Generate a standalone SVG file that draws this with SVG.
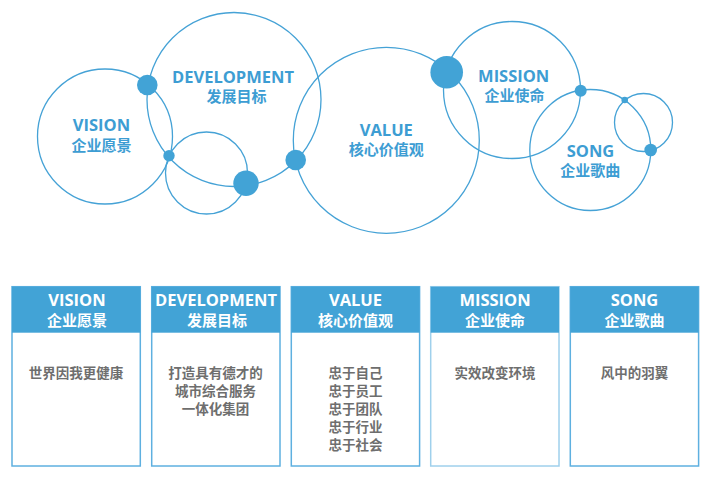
<svg xmlns="http://www.w3.org/2000/svg" width="709" height="487" viewBox="0 0 709 487">
<style>
.ring{fill:none;stroke:#45a2d6;stroke-width:1.3}
.dot{fill:#42a3d6}
.t{font-family:"Open Sans","Noto Sans CJK SC",sans-serif;font-weight:bold;text-anchor:middle}
.en{font-size:16.5px}
.cn{font-family:"Noto Sans CJK SC",sans-serif;font-size:15px}
.blue{fill:#3d9dd3}
.white{fill:#ffffff}
.body{font-family:"Noto Sans CJK SC",sans-serif;font-size:13.5px;font-weight:bold;fill:#6e6e6e;text-anchor:middle}
.box{fill:#ffffff;stroke:#5eb0e0;stroke-width:1.5}
.hdr{fill:#42a3d6}
</style>
<rect width="709" height="487" fill="#ffffff"/>
<g id="connectors">
<circle class="ring" cx="105" cy="136.5" r="67.5"/>
<circle class="ring" cx="234" cy="99.5" r="87"/>
<circle class="ring" cx="206.5" cy="173" r="41"/>
<circle class="ring" cx="386.3" cy="140.3" r="93"/>
<circle class="ring" cx="512" cy="90" r="68.5"/>
<circle class="ring" cx="590.3" cy="150" r="60.5"/>
<circle class="ring" cx="643.5" cy="122.5" r="29"/>
<circle class="dot" cx="147.3" cy="85" r="10.3"/>
<circle class="dot" cx="169" cy="155.7" r="5.7"/>
<circle class="dot" cx="246" cy="183.3" r="12.7"/>
<circle class="dot" cx="295.7" cy="160" r="10.3"/>
<circle class="dot" cx="446.7" cy="72.3" r="16.3"/>
<circle class="dot" cx="580.7" cy="90.7" r="6"/>
<circle class="dot" cx="624.7" cy="100" r="3.3"/>
<circle class="dot" cx="650.7" cy="150" r="6.3"/>
</g>
<g id="c-vision">
<text class="t en blue" x="101.5" y="131">VISION</text>
<text class="t cn blue" x="101.5" y="150.5">企业愿景</text>
</g>
<g id="c-development">
<text class="t en blue" x="233" y="83.3">DEVELOPMENT</text>
<text class="t cn blue" x="236.5" y="101.7">发展目标</text>
</g>
<g id="c-value">
<text class="t en blue" x="386.3" y="136">VALUE</text>
<text class="t cn blue" x="386.3" y="155">核心价值观</text>
</g>
<g id="c-mission">
<text class="t en blue" x="513.7" y="82">MISSION</text>
<text class="t cn blue" x="514.5" y="101">企业使命</text>
</g>
<g id="c-song">
<text class="t en blue" x="590.5" y="157">SONG</text>
<text class="t cn blue" x="590.3" y="175.7">企业歌曲</text>
</g>
<g id="b-vision">
<rect class="box" x="12" y="286.7" width="128.3" height="179.3"/>
<rect class="hdr" x="12" y="286.7" width="128.3" height="46"/>
<text class="t en white" x="77" y="306">VISION</text>
<text class="t cn white" x="77" y="325.7">企业愿景</text>
<text class="body" x="76" y="378.3">世界因我更健康</text>
</g>
<g id="b-development">
<rect class="box" x="151.7" y="286.7" width="128.3" height="179.3"/>
<rect class="hdr" x="151.7" y="286.7" width="128.3" height="46"/>
<text class="t en white" x="216" y="306">DEVELOPMENT</text>
<text class="t cn white" x="217" y="325.7">发展目标</text>
<text class="body" x="215.5" y="378.3">打造具有德才的</text>
<text class="body" x="215.5" y="396.3">城市综合服务</text>
<text class="body" x="215.5" y="414.3">一体化集团</text>
</g>
<g id="b-value">
<rect class="box" x="291.3" y="286.7" width="128.3" height="179.3"/>
<rect class="hdr" x="291.3" y="286.7" width="128.3" height="46"/>
<text class="t en white" x="355.5" y="306">VALUE</text>
<text class="t cn white" x="355.5" y="325.7">核心价值观</text>
<text class="body" x="355.5" y="378.3">忠于自己</text>
<text class="body" x="355.5" y="396.3">忠于员工</text>
<text class="body" x="355.5" y="414.3">忠于团队</text>
<text class="body" x="355.5" y="432.3">忠于行业</text>
<text class="body" x="355.5" y="450.3">忠于社会</text>
</g>
<g id="b-mission">
<rect class="box" x="430.7" y="286.7" width="128.3" height="179.3" style="stroke:#9fd0ec"/>
<rect class="hdr" x="430.7" y="286.7" width="128.3" height="46"/>
<text class="t en white" x="495" y="306">MISSION</text>
<text class="t cn white" x="495" y="325.7">企业使命</text>
<text class="body" x="495" y="378.3">实效改变环境</text>
</g>
<g id="b-song">
<rect class="box" x="570.3" y="286.7" width="128.3" height="179.3"/>
<rect class="hdr" x="570.3" y="286.7" width="128.3" height="46"/>
<text class="t en white" x="634.5" y="306">SONG</text>
<text class="t cn white" x="634.5" y="325.7">企业歌曲</text>
<text class="body" x="634.5" y="378.3">风中的羽翼</text>
</g>
</svg>
